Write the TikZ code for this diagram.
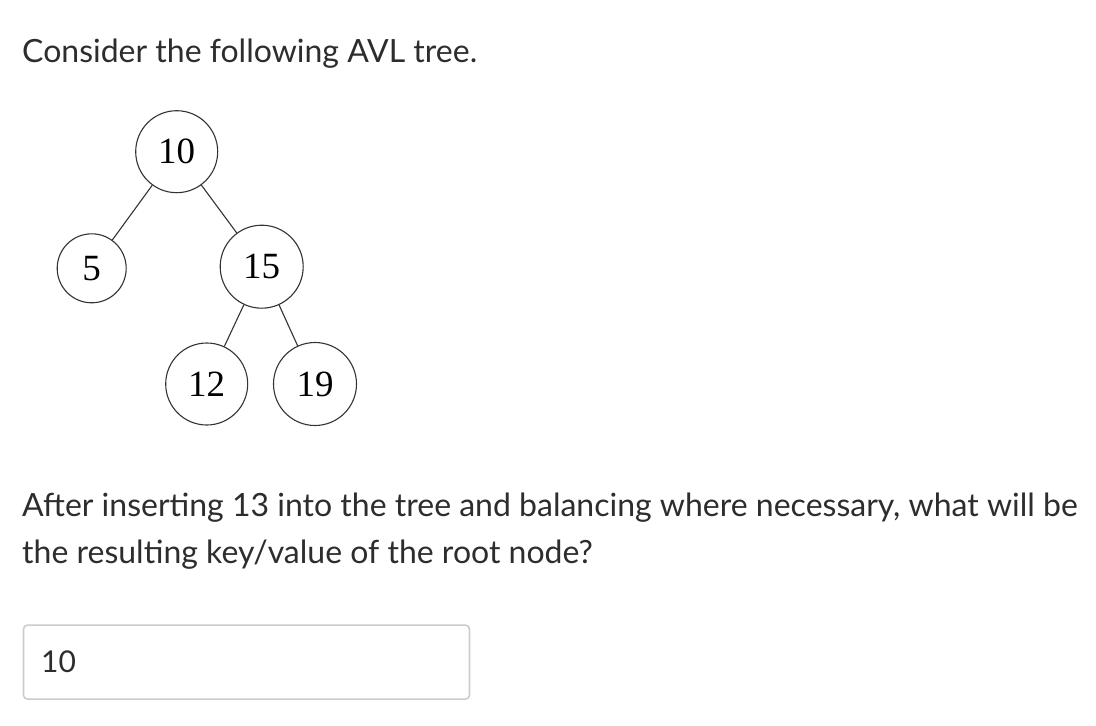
\documentclass[tikz,border=0pt]{standalone}
\usepackage{fontspec}
\setmainfont{Lato}
\newfontfamily\treefont{Liberation Serif}
\definecolor{txt}{HTML}{2D2D2D}
\definecolor{boxline}{HTML}{CCCCCC}
\definecolor{edge}{HTML}{333333}
\begin{document}
\begin{tikzpicture}[x=1pt,y=-1pt,
  prose/.style={anchor=base west,inner sep=0pt,text=txt,font=\fontsize{32}{38}\selectfont},
  treenode/.style={circle,draw=edge,line width=1.1pt,inner sep=0pt,text=black,font=\treefont\fontsize{37}{37}\selectfont},
  treeedge/.style={draw=edge,line width=1.1pt}]
\useasboundingbox (0,0) rectangle (1096,726);
\fill[white] (0,0) rectangle (1096,726);
\node[prose] (title) at (22,62) {Consider the following AVL tree.};
\node[treenode,minimum size=82pt] (n10) at (176.7,151.7) {10};
\node[treenode,minimum size=69pt] (n5) at (91.7,268.3) {5};
\node[treenode,minimum size=83pt] (n15) at (261.7,266.7) {15};
\node[treenode,minimum size=82pt] (n12) at (206.7,384) {12};
\node[treenode,minimum size=83pt] (n19) at (315,384) {19};
\draw[treeedge] (n10) -- (n5);
\draw[treeedge] (n10) -- (n15);
\draw[treeedge] (n15) -- (n12);
\draw[treeedge] (n15) -- (n19);
\node[prose] (q1) at (22,516) {After inserting 13 into the tree and balancing where necessary, what will be};
\node[prose] (q2) at (22,563) {the resulting key/value of the root node?};
\node[draw=boxline,line width=1.6pt,rounded corners=4pt,minimum width=446pt,minimum height=74pt,anchor=north west,inner sep=0pt] (answer) at (22.7,624.3) {};
\node[prose,font=\fontsize{30}{36}\selectfont] (ans) at (41,672) {10};
\end{tikzpicture}
\end{document}
